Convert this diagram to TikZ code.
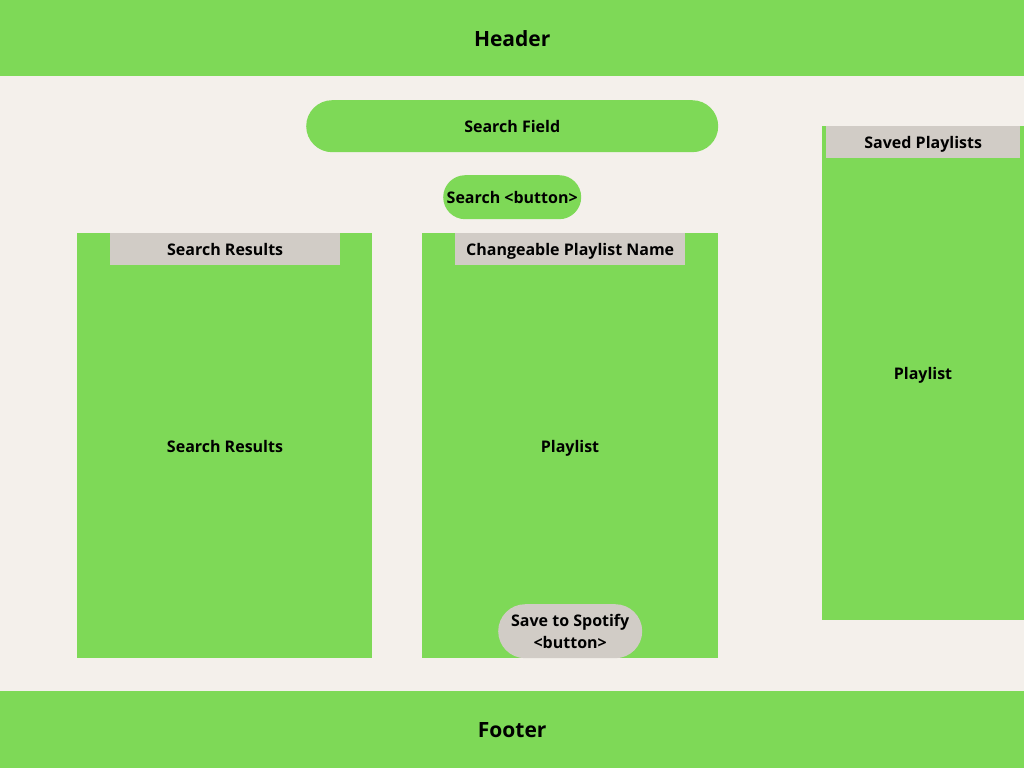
\documentclass[tikz,border=0pt]{standalone}
\usepackage{fontspec}
\setmainfont{Open Sans}
\definecolor{grn}{HTML}{7ED957}
\definecolor{bg}{HTML}{F4F0EB}
\definecolor{gry}{HTML}{D1CCC6}
\begin{document}
\begin{tikzpicture}[x=1pt,y=-1pt,
  txt/.style={font=\bfseries\fontsize{16}{19}\selectfont,text height=15pt,text depth=3pt},
  big/.style={font=\bfseries\fontsize{21}{25}\selectfont,text height=19pt,text depth=3pt},
  box/.style={fill=grn,draw=none,inner sep=0pt,anchor=north west,txt},
  tab/.style={fill=gry,draw=none,inner sep=0pt,anchor=north west,txt},
  lbl/.style={txt}]
\fill[bg] (0,0) rectangle (1024,768);
\useasboundingbox (0,0) rectangle (1024,768);
\node[box,big,minimum width=1024pt,minimum height=76pt] (header) at (0,0) {Header};
\node[box,big,minimum width=1024pt,minimum height=77pt] (footer) at (0,691) {Footer};
\node[box,minimum width=412pt,minimum height=52pt,rounded corners=26pt] (field) at (306,100) {Search Field};
\node[box,minimum width=138pt,minimum height=44pt,rounded corners=22pt] (sbtn) at (443,175) {Search <button>};
% search results panel
\node[box,minimum width=295pt,minimum height=425pt] (results) at (77,233) {};
\node[tab,minimum width=230pt,minimum height=32pt] (restab) at (110,233) {Search Results};
\node[lbl] (reslbl) at (225,446) {Search Results};
% playlist panel
\node[box,minimum width=296pt,minimum height=425pt] (playlist) at (422,233) {};
\node[tab,minimum width=230pt,minimum height=32pt] (pltab) at (455,233) {Changeable Playlist Name};
\node[lbl] (pllbl) at (570,446) {Playlist};
\node[tab,minimum width=144pt,minimum height=54pt,rounded corners=27pt,align=center,font=\bfseries\fontsize{16}{22}\selectfont,text height=,text depth=] (savebtn) at (498,604) {Save to Spotify\\<button>};
% saved playlists panel
\node[box,minimum width=202pt,minimum height=494pt] (saved) at (822,126) {};
\node[tab,minimum width=194pt,minimum height=32pt] (savedtab) at (826,126) {Saved Playlists};
\node[lbl] (savedlbl) at (923,373) {Playlist};
\end{tikzpicture}
\end{document}
